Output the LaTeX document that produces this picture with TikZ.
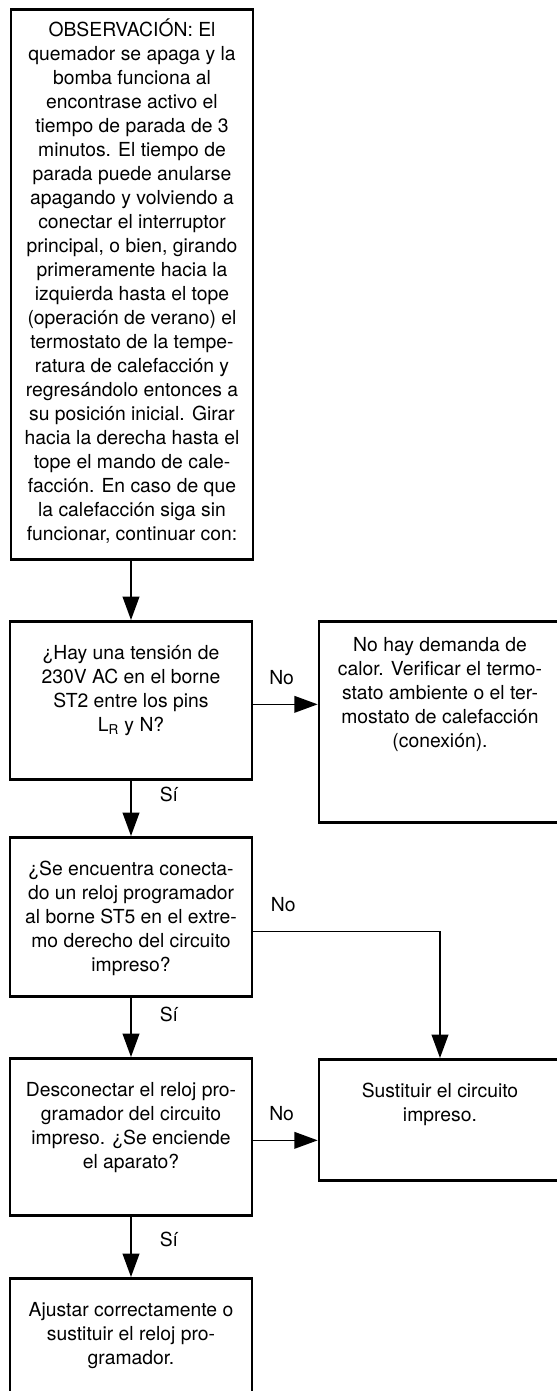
\documentclass[tikz,border=0pt]{standalone}
\usepackage{fontspec}
\setmainfont{TeX Gyre Heros}
\usetikzlibrary{arrows.meta}

\tikzset{
	stepbox/.style 2 args={draw, line width=1.6pt, inner sep=0pt, anchor=north,
		execute at begin node={\begin{minipage}[c][#1][t]{145.2pt}\centering\vspace*{#2}\rule{0pt}{11pt}},
		execute at end node={\end{minipage}}},
	flow/.style={->, line width=1pt},
	answer/.style={inner sep=0pt}
}

\begin{document}
\begin{tikzpicture}[x=0.6pt, y=-0.6pt, every node/.style={font=\fontsize{11.6}{14.4}\selectfont}, >={Triangle[length=14pt, width=10pt]}]
	\useasboundingbox (0,0) rectangle (557,1391);
	\node[stepbox={330pt}{5.2pt}] (obs) at (132,8) {OBSERVACIÓN: El\\quemador se apaga y la\\bomba funciona al\\encontrase activo el\\tiempo de parada de 3\\minutos. El tiempo de\\parada puede anularse\\apagando y volviendo a\\conectar el interruptor\\principal, o bien, girando\\primeramente hacia la\\izquierda hasta el tope\\(operación de verano) el\\termostato de la tempe-\\ratura de calefacción y\\regresándolo entonces a\\su posición inicial. Girar\\hacia la derecha hasta el\\tope el mando de cale-\\facción. En caso de que\\la calefacción siga sin\\funcionar, continuar con:};
	\node[stepbox={94.8pt}{11.8pt}] (q1) at (131,620) {¿Hay una tensión de\\230V AC en el borne\\ST2 entre los pins\\L\textsubscript{R} y N?};
	\node[stepbox={120.6pt}{7pt}] (nodemand) at (440,620) {No hay demanda de\\calor. Verificar el termo-\\stato ambiente o el ter-\\mostato de calefacción\\(conexión).};
	\node[stepbox={95.4pt}{11.8pt}] (q2) at (131,836) {¿Se encuentra conecta-\\do un reloj programador\\al borne ST5 en el extre-\\mo derecho del circuito\\impreso?};
	\node[stepbox={94.2pt}{11.8pt}] (q3) at (131,1057) {Desconectar el reloj pro-\\gramador del circuito\\impreso. ¿Se enciende\\el aparato?};
	\node[stepbox={72.6pt}{11.8pt}] (sust) at (440,1058) {Sustituir el circuito\\impreso.};
	\node[stepbox={78pt}{11.8pt}] (fin) at (131,1277) {Ajustar correctamente o\\sustituir el reloj pro-\\gramador.};

	\draw[flow] (obs.south -| q1.north) -- (q1.north);
	\draw[flow] ([yshift=-2.4pt]q1.east) -- ([yshift=-2.4pt]q1.east -| nodemand.west) node[answer, pos=0.44, above=11.4pt] {No};
	\draw[flow] (q1.south) -- (q2.north) node[answer, pos=0.24, right=16.8pt] {Sí};
	\draw[flow] ([yshift=-8.7pt]q2.east) -| (sust.north) node[answer, pos=0.08, above=11.4pt] {No};
	\draw[flow] (q2.south) -- (q3.north) node[answer, pos=0.29, right=16.8pt] {Sí};
	\draw[flow] ([yshift=-2.1pt]q3.east) -- ([yshift=-2.1pt]q3.east -| sust.west) node[answer, pos=0.44, above=11.4pt] {No};
	\draw[flow] (q3.south) -- (fin.north) node[answer, pos=0.38, right=16.8pt] {Sí};
\end{tikzpicture}
\end{document}
